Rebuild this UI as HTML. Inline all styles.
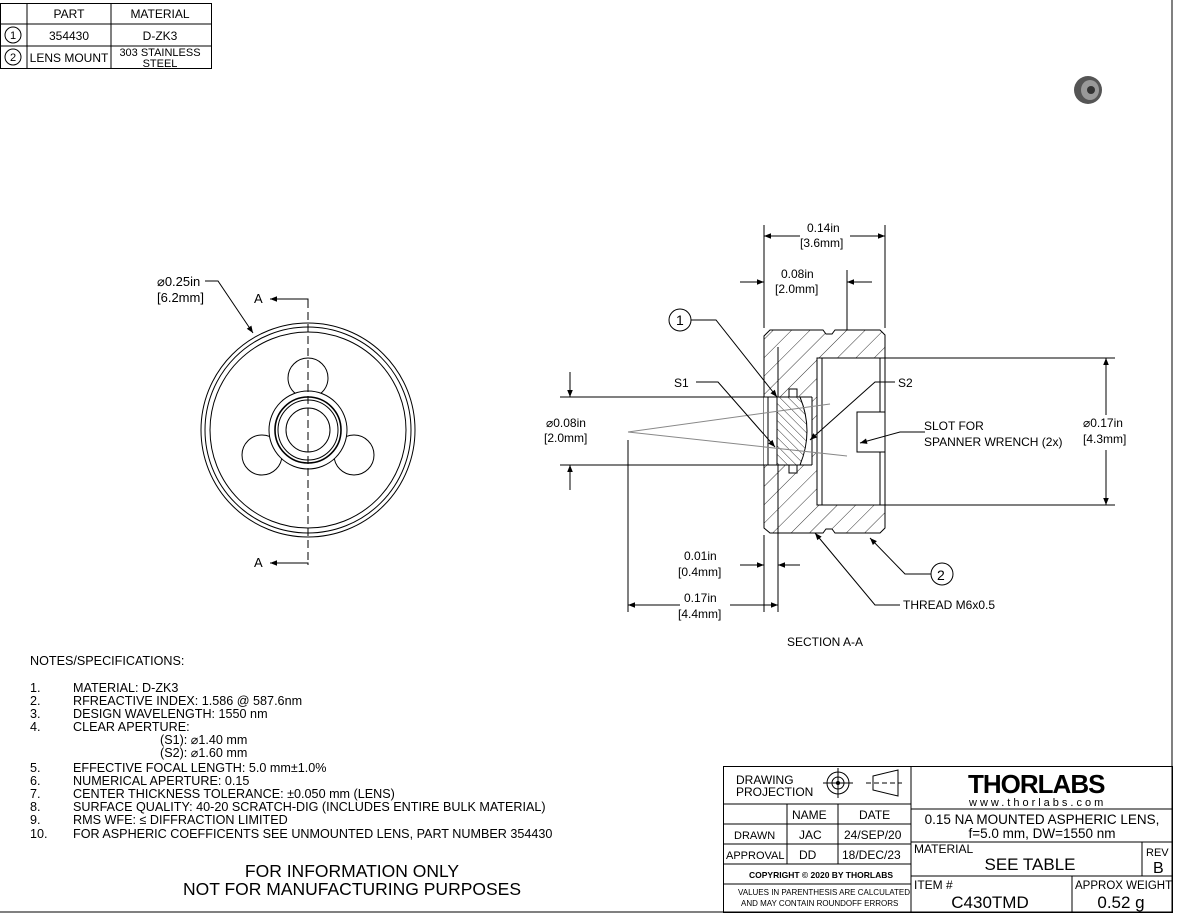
<!DOCTYPE html>
<html><head><meta charset="utf-8"><style>
html,body{margin:0;padding:0;background:#fff;}
body{width:1179px;height:915px;overflow:hidden;}
svg{display:block;font-family:"Liberation Sans",sans-serif;}
</style></head><body>
<svg width="1179" height="915" viewBox="0 0 1179 915">
<defs>
<marker id="ar" viewBox="0 0 10 10" refX="10" refY="5" markerWidth="9" markerHeight="7" orient="auto-start-reverse" markerUnits="userSpaceOnUse"><path d="M0,1 L10,5 L0,9 z" fill="#000"/></marker>
<pattern id="h1" patternUnits="userSpaceOnUse" width="13" height="13" patternTransform="rotate(45)"><line x1="0" y1="0" x2="0" y2="13" stroke="#000" stroke-width="0.8"/></pattern>
<pattern id="h2" patternUnits="userSpaceOnUse" width="6" height="6" patternTransform="rotate(-45)"><line x1="0" y1="0" x2="0" y2="6" stroke="#000" stroke-width="0.8"/></pattern>
</defs>
<g stroke="#000" fill="none" stroke-width="1">
<line x1="1172" y1="0" x2="1172" y2="912"/>
<line x1="0" y1="912" x2="1172" y2="912"/>
<rect x="0.5" y="3.5" width="211" height="65"/>
<line x1="0" y1="24" x2="211" y2="24"/><line x1="0" y1="46" x2="211" y2="46"/>
<line x1="27" y1="3" x2="27" y2="68"/><line x1="111" y1="3" x2="111" y2="68"/>
<circle cx="13" cy="35" r="8"/><circle cx="13" cy="57" r="8"/>
</g>
<g font-size="12" text-anchor="middle">
<text x="69" y="18">PART</text><text x="160" y="18">MATERIAL</text>
<text x="13" y="39" font-size="11">1</text><text x="69" y="40">354430</text><text x="160" y="40">D-ZK3</text>
<text x="13" y="61" font-size="11">2</text><text x="69" y="62">LENS MOUNT</text>
<text x="160" y="56" font-size="11">303 STAINLESS</text><text x="160" y="67" font-size="11">STEEL</text>
</g>
<g transform="translate(1088,90)">
<ellipse cx="0" cy="0" rx="14" ry="14" fill="#555"/><ellipse cx="2" cy="0" rx="9" ry="10" fill="#999"/><circle cx="3" cy="0" r="4" fill="#333"/>
</g>
<g stroke="#000" fill="none" stroke-width="1">
<circle cx="308" cy="430" r="107"/><circle cx="308" cy="430" r="103"/><circle cx="308" cy="430" r="98"/>
<circle cx="308" cy="378" r="20"/><circle cx="262" cy="455" r="20"/><circle cx="354" cy="455" r="20"/>
<circle cx="308" cy="430" r="39" fill="#fff"/>
<circle cx="308" cy="430" r="33" stroke-width="1.6"/><circle cx="308" cy="430" r="30"/><circle cx="308" cy="430" r="22"/>
<line x1="308" y1="300" x2="308" y2="565" stroke-dasharray="8,4"/>
<polyline points="308,300 308,299 270,299" marker-end="url(#ar)"/>
<polyline points="308,565 308,563 270,563" marker-end="url(#ar)"/>
<polyline points="205,281 218,281 253,333" marker-end="url(#ar)"/>
</g>
<g font-size="13"><text x="254" y="303">A</text><text x="254" y="567">A</text>
<text x="157" y="286">⌀0.25in</text><text x="157" y="302">[6.2mm]</text></g>
<g stroke="#000" stroke-width="1">
<path d="M770,330 L823,330 L826,334 L832,334 L835,330 L880,330 L885,335 L885,528 L880,533 L835,533 L832,529 L826,529 L823,533 L770,533 L764,528 L764,336 Z" fill="url(#h1)"/>
<rect x="817" y="358" width="68" height="147" fill="#fff"/>
<line x1="822" y1="358" x2="822" y2="505"/><line x1="880" y1="358" x2="880" y2="505"/>
<rect x="857" y="412" width="28" height="40" fill="#fff"/>
<rect x="764" y="397" width="48" height="68" fill="#fff" stroke="none"/>
<line x1="778" y1="347" x2="778" y2="397"/><line x1="764" y1="397" x2="812" y2="397"/><line x1="764" y1="465" x2="812" y2="465"/>
<path d="M777,397 L800,397 Q814,431 800,465 L777,465 Z" fill="url(#h2)"/>
<rect x="789" y="389" width="8" height="8" fill="#fff"/><rect x="789" y="465" width="8" height="8" fill="#fff"/>
<line x1="812" y1="397" x2="812" y2="465"/><line x1="768" y1="397" x2="768" y2="465"/>
</g>
<g stroke="#888" stroke-width="1" fill="none">
<line x1="628" y1="432" x2="830" y2="404"/><line x1="628" y1="432" x2="847" y2="456"/>
</g>
<g stroke="#000" stroke-width="1" fill="none">
<line x1="764" y1="225" x2="764" y2="328"/><line x1="885" y1="225" x2="885" y2="328"/>
<line x1="764" y1="236" x2="800" y2="236" marker-start="url(#ar)"/><line x1="850" y1="236" x2="885" y2="236" marker-end="url(#ar)"/>
<line x1="847" y1="270" x2="847" y2="330"/>
<line x1="740" y1="282" x2="764" y2="282" marker-end="url(#ar)"/><line x1="872" y1="282" x2="847" y2="282" marker-end="url(#ar)"/>
<line x1="560" y1="397" x2="790" y2="397"/><line x1="560" y1="465" x2="790" y2="465"/>
<line x1="570" y1="372" x2="570" y2="397" marker-end="url(#ar)"/><line x1="570" y1="490" x2="570" y2="465" marker-end="url(#ar)"/>
<line x1="885" y1="358" x2="1115" y2="358"/><line x1="885" y1="505" x2="1115" y2="505"/>
<line x1="1106" y1="415" x2="1106" y2="358" marker-end="url(#ar)"/><line x1="1106" y1="450" x2="1106" y2="505" marker-end="url(#ar)"/>
<line x1="764" y1="535" x2="764" y2="612"/><line x1="778" y1="465" x2="778" y2="612"/><line x1="628" y1="440" x2="628" y2="612"/>
<line x1="740" y1="565" x2="764" y2="565" marker-end="url(#ar)"/><line x1="800" y1="565" x2="778" y2="565" marker-end="url(#ar)"/>
<line x1="628" y1="605" x2="680" y2="605" marker-start="url(#ar)"/><line x1="730" y1="605" x2="778" y2="605" marker-end="url(#ar)"/>
<circle cx="680" cy="320" r="11"/><circle cx="942" cy="574" r="11"/>
<polyline points="691,320 716,320 777,397" marker-end="url(#ar)"/>
<polyline points="696,382 718,382 775,447" marker-end="url(#ar)"/>
<polyline points="895,382 875,382 810,440" marker-end="url(#ar)"/>
<polyline points="925,432 900,432 860,443" marker-end="url(#ar)"/>
<polyline points="931,574 905,574 870,538" marker-end="url(#ar)"/>
<polyline points="900,605 875,605 815,533" marker-end="url(#ar)"/>
</g>
<g font-size="12">
<text x="807" y="232">0.14in</text><text x="800" y="247">[3.6mm]</text>
<text x="781" y="278">0.08in</text><text x="775" y="293">[2.0mm]</text>
<text x="676" y="325" font-size="14">1</text><text x="937" y="580" font-size="14">2</text>
<text x="674" y="387">S1</text><text x="898" y="387">S2</text>
<text x="546" y="427">⌀0.08in</text><text x="544" y="442">[2.0mm]</text>
<text x="1083" y="427">⌀0.17in</text><text x="1083" y="443">[4.3mm]</text>
<text x="924" y="430">SLOT FOR</text><text x="924" y="446">SPANNER WRENCH (2x)</text>
<text x="684" y="560">0.01in</text><text x="678" y="576">[0.4mm]</text>
<text x="684" y="602">0.17in</text><text x="678" y="618">[4.4mm]</text>
<text x="903" y="609">THREAD M6x0.5</text>
<text x="787" y="646">SECTION A-A</text>
</g>
<g font-size="12.6">
<text x="30" y="665">NOTES/SPECIFICATIONS:</text>
<text x="30" y="692">1.</text><text x="73" y="692">MATERIAL: D-ZK3</text>
<text x="30" y="705">2.</text><text x="73" y="705">RFREACTIVE INDEX: 1.586 @ 587.6nm</text>
<text x="30" y="718">3.</text><text x="73" y="718">DESIGN WAVELENGTH: 1550 nm</text>
<text x="30" y="731">4.</text><text x="73" y="731">CLEAR APERTURE:</text>
<text x="160" y="744">(S1): ⌀1.40 mm</text><text x="160" y="757">(S2): ⌀1.60 mm</text>
<text x="30" y="772">5.</text><text x="73" y="772">EFFECTIVE FOCAL LENGTH: 5.0 mm±1.0%</text>
<text x="30" y="785">6.</text><text x="73" y="785">NUMERICAL APERTURE: 0.15</text>
<text x="30" y="798">7.</text><text x="73" y="798">CENTER THICKNESS TOLERANCE: ±0.050 mm (LENS)</text>
<text x="30" y="811">8.</text><text x="73" y="811">SURFACE QUALITY: 40-20 SCRATCH-DIG (INCLUDES ENTIRE BULK MATERIAL)</text>
<text x="30" y="824">9.</text><text x="73" y="824">RMS WFE: ≤ DIFFRACTION LIMITED</text>
<text x="30" y="838">10.</text><text x="73" y="838">FOR ASPHERIC COEFFICENTS SEE UNMOUNTED LENS, PART NUMBER 354430</text>
</g>
<g font-size="17.5" text-anchor="middle"><text x="352" y="877">FOR INFORMATION ONLY</text><text x="352" y="895">NOT FOR MANUFACTURING PURPOSES</text></g>
<g stroke="#000" fill="none" stroke-width="1">
<rect x="723.5" y="766.5" width="449" height="146"/>
<line x1="911" y1="766" x2="911" y2="912"/>
<line x1="723" y1="804" x2="911" y2="804"/><line x1="723" y1="824" x2="911" y2="824"/>
<line x1="723" y1="844" x2="911" y2="844"/><line x1="723" y1="864" x2="911" y2="864"/><line x1="723" y1="884" x2="911" y2="884"/>
<line x1="787" y1="804" x2="787" y2="864"/><line x1="838" y1="804" x2="838" y2="864"/>
<line x1="911" y1="809" x2="1172" y2="809"/><line x1="911" y1="842" x2="1172" y2="842"/><line x1="911" y1="876" x2="1172" y2="876"/>
<line x1="1142" y1="842" x2="1142" y2="876"/><line x1="1072" y1="876" x2="1072" y2="912"/>
<circle cx="838" cy="783" r="11"/><circle cx="838" cy="783" r="6"/><circle cx="838" cy="783" r="1.5" fill="#000"/>
<line x1="823" y1="783" x2="853" y2="783"/><line x1="838" y1="768" x2="838" y2="798"/>
<path d="M873,776 L898,770 L898,796 L873,790 Z"/><line x1="866" y1="783" x2="902" y2="783" stroke-dasharray="5,3"/>
</g>
<g font-size="12">
<text x="736" y="784">DRAWING</text><text x="736" y="796">PROJECTION</text>
<text x="792" y="819">NAME</text><text x="859" y="819">DATE</text>
<text x="734" y="839" font-size="11">DRAWN</text><text x="799" y="839">JAC</text><text x="844" y="839">24/SEP/20</text>
<text x="726" y="859" font-size="11">APPROVAL</text><text x="799" y="859">DD</text><text x="842" y="859">18/DEC/23</text>
<text x="749" y="878" font-size="8.5" font-weight="bold">COPYRIGHT © 2020 BY THORLABS</text>
<text x="738" y="895" font-size="8">VALUES IN PARENTHESIS ARE CALCULATED</text>
<text x="741" y="906" font-size="8">AND MAY CONTAIN ROUNDOFF ERRORS</text>
<text x="968" y="793" font-size="26" font-weight="bold" letter-spacing="-1">THORLABS</text>
<text x="969" y="806" font-size="11" letter-spacing="3">www.thorlabs.com</text>
<text x="1042" y="824" font-size="13.5" text-anchor="middle">0.15 NA MOUNTED ASPHERIC LENS,</text>
<text x="1042" y="838" font-size="13.5" text-anchor="middle">f=5.0 mm, DW=1550 nm</text>
<text x="914" y="853">MATERIAL</text><text x="1030" y="870" font-size="17" text-anchor="middle">SEE TABLE</text>
<text x="1146" y="856" font-size="11">REV</text><text x="1153" y="873" font-size="16">B</text>
<text x="914" y="889">ITEM #</text><text x="990" y="908" font-size="17" text-anchor="middle">C430TMD</text>
<text x="1075" y="889" font-size="11.5">APPROX WEIGHT</text><text x="1121" y="908" font-size="17" text-anchor="middle">0.52 g</text>
</g>
</svg>
</body></html>
